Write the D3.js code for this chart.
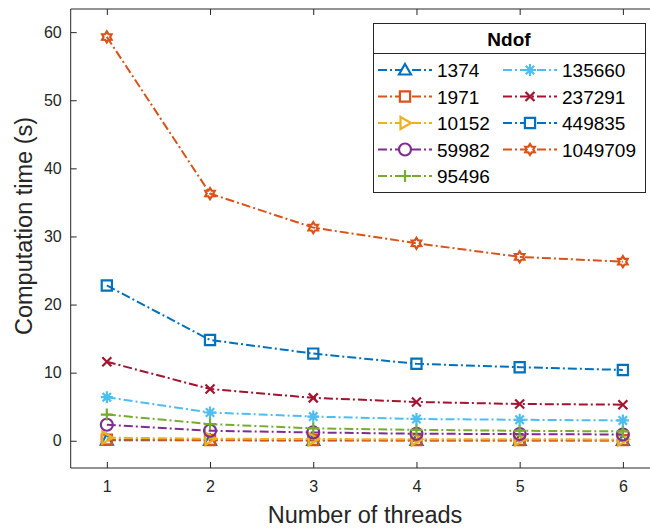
<!DOCTYPE html>
<html><head><meta charset="utf-8">
<script src="https://cdn.jsdelivr.net/npm/d3@7"></script>
<style>body{margin:0;background:#fff}svg{display:block;font-family:"Liberation Sans",Arial,sans-serif}</style>
</head><body><svg id="c" width="650" height="529"></svg>
<script>
const threads = [1, 2, 3, 4, 5, 6];
const ndofLabels = ["1374", "1971", "10152", "59982", "95496", "135660", "237291", "449835", "1049709"];
const t1374 = [0.08, 0.06, 0.05, 0.05, 0.05, 0.05];
const t1971 = [0.15, 0.11, 0.1, 0.09, 0.09, 0.09];
const t10152 = [0.45, 0.3, 0.25, 0.22, 0.21, 0.2];
const t59982 = [2.35, 1.47, 1.22, 1.03, 0.98, 0.92];
const t95496 = [3.85, 2.45, 1.82, 1.6, 1.47, 1.37];
const t135660 = [6.4, 4.15, 3.55, 3.2, 3.08, 2.98];
const t237291 = [11.6, 7.6, 6.3, 5.7, 5.4, 5.3];
const t449835 = [22.8, 14.8, 12.8, 11.3, 10.8, 10.4];
const t1049709 = [59.3, 36.3, 31.3, 29.0, 27.0, 26.3];
const yTicks = [0, 10, 20, 30, 40, 50, 60];
const xTicks = [1, 2, 3, 4, 5, 6];

const seriesValues = [t1374, t1971, t10152, t59982, t95496, t135660, t237291, t449835, t1049709];
const colors = ["#0072BD", "#D95319", "#EDB120", "#7E2F8E", "#77AC30", "#4DBEEE", "#A2142F", "#0072BD", "#D95319"];
const markers = ["triUp", "square", "triRight", "circle", "plus", "asterisk", "cross", "square", "hexagram"];

const svg = d3.select("#c");
const L = 70.7, T = 9, B = 468, R = 659;
const x = d3.scaleLinear().domain([0.65, 6.35]).range([L, R]);
const y = d3.scaleLinear().domain([-4, 63.4]).range([B, T]);

const ax = svg.append("g");
ax.append("line").attr("x1", L).attr("x2", R).attr("y1", B).attr("y2", B).attr("stroke", "#262626");
ax.append("line").attr("x1", L).attr("x2", R).attr("y1", T).attr("y2", T).attr("stroke", "#262626");
ax.append("line").attr("x1", L).attr("x2", L).attr("y1", T).attr("y2", B).attr("stroke", "#262626");

const xAxis = svg.append("g").attr("transform", `translate(0,${B})`)
  .call(d3.axisBottom(x).tickValues(xTicks).tickSizeInner(-6).tickSizeOuter(0).tickPadding(13).tickFormat(d3.format("d")));
const xAxisTop = svg.append("g").attr("transform", `translate(0,${T})`)
  .call(d3.axisTop(x).tickValues(xTicks).tickSizeInner(-6).tickSizeOuter(0).tickFormat(""));
const yAxis = svg.append("g").attr("transform", `translate(${L},0)`)
  .call(d3.axisLeft(y).tickValues(yTicks).tickSizeInner(-6).tickSizeOuter(0).tickPadding(9).tickFormat(d3.format("d")));
[xAxis, xAxisTop, yAxis].forEach(g => {
  g.select(".domain").remove();
  g.selectAll(".tick line").attr("stroke", "#262626");
  g.selectAll(".tick text").attr("fill", "#262626").attr("font-size", 16).attr("font-family", "Liberation Sans, Arial, sans-serif");
});

svg.append("text").attr("x", 365).attr("y", 523).attr("text-anchor", "middle")
  .attr("font-size", 23.5).attr("fill", "#262626").text("Number of threads");
svg.append("text").attr("transform", "translate(32,226) rotate(-90)").attr("text-anchor", "middle")
  .attr("font-size", 23.5).attr("fill", "#262626").text("Computation time (s)");

function markerPath(type, r) {
  const p = d3.path();
  switch (type) {
    case "triUp": p.moveTo(0, -r); p.lineTo(r, r * 0.75); p.lineTo(-r, r * 0.75); p.closePath(); break;
    case "triRight": p.moveTo(r, 0); p.lineTo(-r * 0.75, r); p.lineTo(-r * 0.75, -r); p.closePath(); break;
    case "square": { const s = r * 0.85; p.rect(-s, -s, 2 * s, 2 * s); break; }
    case "circle": p.moveTo(r, 0); p.arc(0, 0, r, 0, 2 * Math.PI); break;
    case "plus": p.moveTo(-r, 0); p.lineTo(r, 0); p.moveTo(0, -r); p.lineTo(0, r); break;
    case "cross": { const s = r * 0.75; p.moveTo(-s, -s); p.lineTo(s, s); p.moveTo(-s, s); p.lineTo(s, -s); break; }
    case "asterisk": { p.moveTo(-r, 0); p.lineTo(r, 0); p.moveTo(0, -r); p.lineTo(0, r); const s = r * 0.7; p.moveTo(-s, -s); p.lineTo(s, s); p.moveTo(-s, s); p.lineTo(s, -s); break; }
    case "hexagram": {
      const ri = r * 0.6;
      for (let i = 0; i < 12; i++) {
        const a = -Math.PI / 2 + i * Math.PI / 6;
        const rr = i % 2 === 0 ? r : ri;
        if (i === 0) p.moveTo(rr * Math.cos(a), rr * Math.sin(a)); else p.lineTo(rr * Math.cos(a), rr * Math.sin(a));
      }
      p.closePath(); break;
    }
  }
  return p.toString();
}

const line = d3.line().x(d => x(d[0])).y(d => y(d[1]));
const plot = svg.append("g");
seriesValues.forEach((vals, i) => {
  const pts = threads.map((t, j) => [t, vals[j]]);
  plot.append("path").attr("d", line(pts)).attr("fill", "none").attr("stroke", colors[i])
    .attr("stroke-width", 2).attr("stroke-dasharray", "9,3,2,3");
  plot.selectAll(null).data(pts).enter().append("path")
    .attr("transform", d => `translate(${x(d[0])},${y(d[1])})`)
    .attr("d", markerPath(markers[i], markers[i] === "hexagram" ? 5.5 : 6)).attr("fill", "none").attr("stroke", colors[i]).attr("stroke-width", 2.2);
});

const lg = svg.append("g");
lg.append("rect").attr("x", 373.5).attr("y", 23.5).attr("width", 272).attr("height", 169).attr("fill", "#fff").attr("stroke", "#262626").attr("stroke-width", 1);
lg.append("line").attr("x1", 373.5).attr("x2", 645.5).attr("y1", 53.5).attr("y2", 53.5).attr("stroke", "#262626");
lg.append("text").attr("x", 509).attr("y", 46).attr("text-anchor", "middle").attr("font-size", 19).attr("font-weight", "bold").attr("fill", "#000").text("Ndof");
const rowY = [70, 96.5, 123, 149.5, 176];
ndofLabels.forEach((lab, i) => {
  const col = i < 5 ? 0 : 1;
  const row = i < 5 ? i : i - 5;
  const x0 = col === 0 ? 378 : 503;
  const yy = rowY[row];
  const g = lg.append("g");
  g.append("line").attr("x1", x0).attr("x2", x0 + 54).attr("y1", yy).attr("y2", yy)
    .attr("stroke", colors[i]).attr("stroke-width", 2).attr("stroke-dasharray", "9,3,2,3");
  g.append("path").attr("transform", `translate(${x0 + 27},${yy})`).attr("d", markerPath(markers[i], markers[i] === "hexagram" ? 5.5 : 6))
    .attr("fill", "#fff").attr("stroke", colors[i]).attr("stroke-width", 2.2);
  g.append("text").attr("x", x0 + 59).attr("y", yy + 7).attr("font-size", 19).attr("fill", "#000").text(lab);
});
</script></body></html>
